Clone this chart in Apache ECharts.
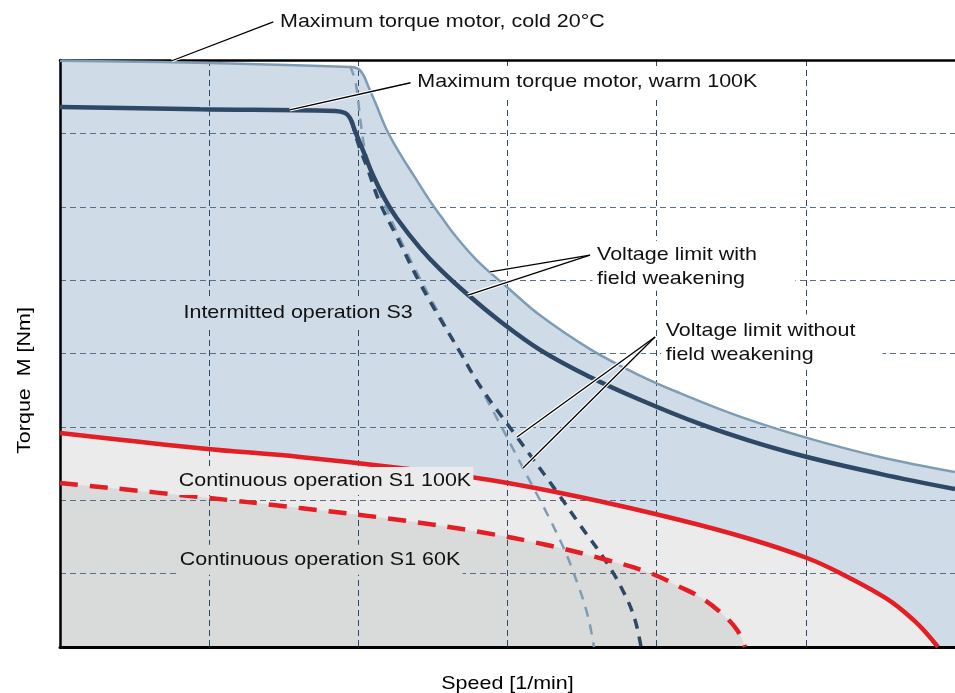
<!DOCTYPE html>
<html>
<head>
<meta charset="utf-8">
<script src="https://cdn.jsdelivr.net/npm/echarts@6/dist/echarts.min.js"></script>
<style>
  html, body { margin: 0; padding: 0; background: #ffffff; }
  #chart { width: 955px; height: 693px; }
</style>
</head>
<body>
<div id="chart"></div>
<script>
// Torque-speed characteristic of a servo motor (normalised grid units)

// Maximum torque, motor cold 20°C (with field weakening)
const coldMaxTorque = [
  [0, 7.99], [1.0, 7.96], [1.944, 7.905], [2.0, 7.88], [2.03, 7.81], [2.065, 7.65],
  [2.12, 7.39], [2.19, 7.05], [2.28, 6.72], [2.37, 6.43], [2.48, 6.08], [2.55, 5.88],
  [2.66, 5.58], [2.80, 5.26], [3.0, 4.90], [3.218, 4.52], [3.553, 4.06],
  [3.888, 3.70], [4.156, 3.46], [4.559, 3.14], [5.008, 2.85], [5.497, 2.59], [6.0, 2.385]
];

// Maximum torque, motor warm 100K (with field weakening)
const warmMaxTorque = [
  [0, 7.36], [0.939, 7.33], [1.844, 7.305], [1.911, 7.277], [1.944, 7.21], [1.978, 7.03],
  [2.031, 6.77], [2.098, 6.43], [2.179, 6.10], [2.259, 5.84], [2.413, 5.44],
  [2.547, 5.15], [2.735, 4.80], [2.95, 4.44], [3.218, 4.05], [3.553, 3.68],
  [3.888, 3.37], [4.29, 3.04], [4.626, 2.81], [5.008, 2.59], [5.497, 2.36], [6.0, 2.153]
];

// Voltage limit without field weakening, warm motor
const warmNoWeakening = [
  [1.958, 7.17], [1.991, 6.91], [2.065, 6.50], [2.145, 6.05], [2.259, 5.588],
  [2.413, 4.96], [2.547, 4.48], [2.682, 4.02], [2.816, 3.557], [3.064, 2.86],
  [3.332, 2.112], [3.486, 1.663], [3.667, 1.145], [3.788, 0.709], [3.855, 0.368], [3.895, 0]
];

// Voltage limit without field weakening, cold motor
const coldNoWeakening = [
  [1.944, 7.918], [1.978, 7.727], [1.998, 7.455], [2.018, 7.114], [2.045, 6.773],
  [2.092, 6.474], [2.145, 6.187], [2.293, 5.506], [2.581, 4.388], [2.863, 3.366],
  [3.104, 2.44], [3.352, 1.458], [3.473, 0.845], [3.54, 0.409], [3.58, 0]
];

// Continuous operation S1, 100K
const s1Warm = [
  [0, 2.917], [0.939, 2.71], [1.609, 2.59], [2.279, 2.44], [2.883, 2.276],
  [3.486, 2.044], [4.156, 1.731], [4.626, 1.472], [5.008, 1.213], [5.229, 1.008],
  [5.544, 0.655], [5.732, 0.35], [5.819, 0.164], [5.886, 0]
];

// Continuous operation S1, 60K
const s1Cool = [
  [0, 2.235], [0.939, 2.044], [1.609, 1.894], [2.279, 1.731], [2.816, 1.567],
  [3.265, 1.39], [3.667, 1.186], [3.955, 1.009], [4.156, 0.818], [4.29, 0.681],
  [4.425, 0.477], [4.539, 0.232], [4.592, 0]
];

// Annotation texts with their anchors and leader-line ends (data units)
const annotations = [
  { text: 'Maximum torque motor, cold 20°C', at: [1.475, 8.52], align: 'left', vAlign: 'middle',
    leaders: [[[1.43, 8.52], [0.75, 7.99]]], bg: null },
  { text: 'Maximum torque motor, warm 100K', at: [2.38, 7.70], align: 'left', vAlign: 'middle',
    leaders: [[[2.35, 7.69], [1.54, 7.32]]], bg: '#ffffff', pad: [2, 8, 2, 2] },
  { text: 'Voltage limit with\nfield weakening', at: [3.57, 5.535], align: 'left', vAlign: 'top',
    leaders: [[[3.553, 5.342], [2.883, 5.111]], [[3.553, 5.342], [2.735, 4.797]]],
    bg: '#ffffff', pad: [2, 34, 0, 4] },
  { text: 'Voltage limit without\nfield weakening', at: [4.03, 4.53], align: 'left', vAlign: 'top',
    leaders: [[[3.989, 4.225], [3.064, 2.862]], [[3.989, 4.225], [3.104, 2.44]]],
    bg: '#ffffff', pad: [4, 24, 2, 4] },
  { text: 'Intermitted operation S3', at: [1.596, 4.552], align: 'center', vAlign: 'middle',
    leaders: [], bg: '#cfdbe6', pad: [4, 2, 4, 2] },
  { text: 'Continuous operation S1 100K', at: [1.776, 2.262], align: 'center', vAlign: 'middle',
    leaders: [], bg: '#ebebeb', pad: [2, 2, 2, 2] },
  { text: 'Continuous operation S1 60K', at: [1.743, 1.19], align: 'center', vAlign: 'middle',
    leaders: [], bg: '#d9dbdb', pad: [3, 2, 3, 2] }
];

const AXIS_X_NAME = 'Speed [1/min]';
const AXIS_Y_NAME = 'Torque  M [Nm]';

const FONT = '19px "Liberation Sans", Arial, sans-serif';
const TEXT_STRETCH = 1.13;
const BLUE_DARK = '#2e4866';
const BLUE_LIGHT = '#7f9cb5';
const RED = '#e31e24';
const SMOOTH = 0.4;

function areaSeries(data, color) {
  return {
    type: 'line', data: data, z: 1, silent: true, showSymbol: false, symbol: 'none',
    smooth: SMOOTH,
    lineStyle: { width: 0, opacity: 0 },
    areaStyle: { color: color, opacity: 1 }
  };
}

function curveSeries(data, color, width, dash) {
  return {
    type: 'line', data: data, z: 3, silent: true, showSymbol: false, symbol: 'none',
    smooth: SMOOTH,
    lineStyle: { color: color, width: width, type: dash || 'solid', cap: 'butt' }
  };
}

const chart = echarts.init(document.getElementById('chart'), null, { renderer: 'canvas' });

chart.setOption({
  animation: false,
  backgroundColor: '#ffffff',
  grid: { left: 60, right: 0, top: 60, bottom: 46, containLabel: false, outerBoundsMode: 'none' },
  xAxis: [
    {
      type: 'value', min: 0, max: 6, interval: 1, z: 2,
      axisLine: { show: true, onZero: false, lineStyle: { color: '#000', width: 3 } },
      axisTick: { show: false }, axisLabel: { show: false },
      splitLine: { show: true, lineStyle: { color: '#2f4a66', width: 1, type: [6, 4] } }
    },
    {
      type: 'value', position: 'top', min: 0, max: 6, z: 2,
      axisLine: { show: true, onZero: false, lineStyle: { color: '#000', width: 2.5 } },
      axisTick: { show: false }, axisLabel: { show: false }, splitLine: { show: false }
    }
  ],
  yAxis: [
    {
      type: 'value', min: 0, max: 8, interval: 1, z: 2,
      axisLine: { show: true, onZero: false, lineStyle: { color: '#000', width: 2.5 } },
      axisTick: { show: false }, axisLabel: { show: false },
      splitLine: { show: true, lineStyle: { color: '#5a6f87', width: 1, type: [6, 4] } }
    },
    {
      type: 'value', position: 'right', min: 0, max: 8, z: 2,
      axisLine: { show: true, onZero: false, lineStyle: { color: '#8a9aaa', width: 1 } },
      axisTick: { show: false }, axisLabel: { show: false }, splitLine: { show: false }
    }
  ],
  series: [
    areaSeries(coldMaxTorque, '#cfdbe6'),
    areaSeries(s1Warm, '#ebebeb'),
    areaSeries(s1Cool, '#d9dbdb'),
    curveSeries(coldNoWeakening, BLUE_LIGHT, 2.5, [10, 8]),
    curveSeries(warmNoWeakening, BLUE_DARK, 3.5, [10, 8]),
    curveSeries(coldMaxTorque, BLUE_LIGHT, 2.5),
    curveSeries(warmMaxTorque, BLUE_DARK, 4.5),
    curveSeries(s1Cool, RED, 4.5, [18, 12]),
    curveSeries(s1Warm, RED, 4.5)
  ]
});

// Leader lines, annotation texts and axis titles, positioned from the axes
const toPx = p => chart.convertToPixel({ gridIndex: 0 }, p);
const graphics = [];

function textEl(style, x, y, rotation) {
  return { type: 'text', z: 12, silent: true, x: x, y: y,
    rotation: rotation || 0, scaleX: TEXT_STRETCH, scaleY: 1,
    style: Object.assign({ x: 0, y: 0, font: FONT, fill: '#111111', lineHeight: 24 }, style) };
}

annotations.forEach(a => {
  a.leaders.forEach(l => {
    const p0 = toPx(l[0]), p1 = toPx(l[1]);
    graphics.push({ type: 'line', z: 10, silent: true,
      shape: { x1: p0[0], y1: p0[1], x2: p1[0], y2: p1[1] },
      style: { stroke: '#ffffff', lineWidth: 3.5 } });
    graphics.push({ type: 'line', z: 11, silent: true,
      shape: { x1: p0[0], y1: p0[1], x2: p1[0], y2: p1[1] },
      style: { stroke: '#000000', lineWidth: 1.3 } });
  });
  const p = toPx(a.at);
  const style = { text: a.text, align: a.align, verticalAlign: a.vAlign };
  if (a.bg) { style.backgroundColor = a.bg; style.padding = a.pad; }
  graphics.push(textEl(style, p[0], p[1]));
});

// Axis titles: centred under / beside the plot area
const origin = toPx([0, 0]);
const far = toPx([6, 8]);
graphics.push(textEl({ text: AXIS_X_NAME, align: 'center', verticalAlign: 'middle', fill: '#000' },
  (origin[0] + far[0]) / 2, origin[1] + 37));
graphics.push(textEl({ text: AXIS_Y_NAME, align: 'center', verticalAlign: 'middle', fill: '#000' },
  origin[0] - 35, (origin[1] + far[1]) / 2 + 27, Math.PI / 2));

chart.setOption({ graphic: graphics });
</script>
</body>
</html>
